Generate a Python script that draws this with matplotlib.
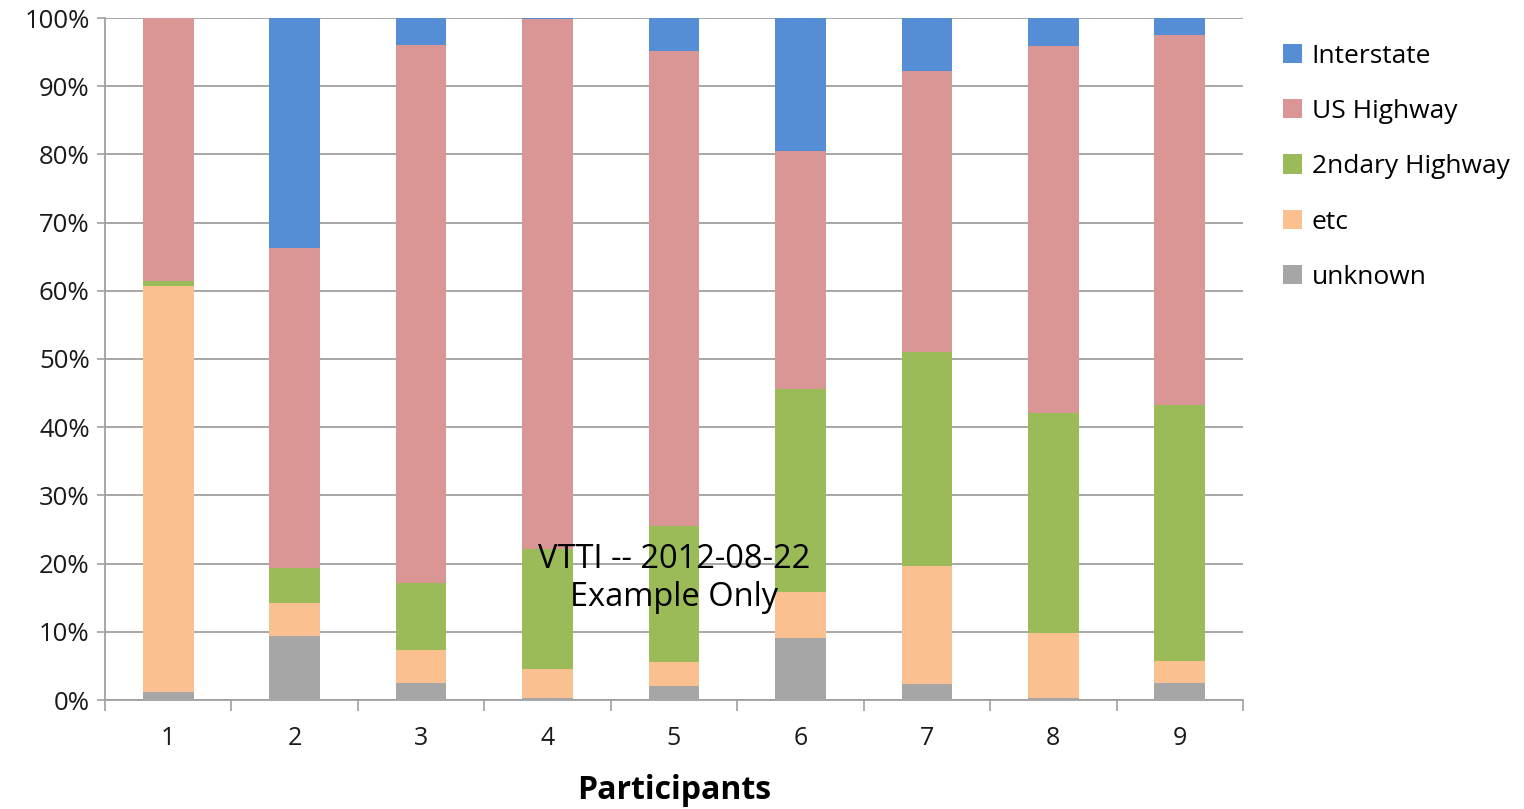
import matplotlib
matplotlib.use("Agg")
import matplotlib.pyplot as plt
import numpy as np
from matplotlib.patches import Patch

participants = ["1", "2", "3", "4", "5", "6", "7", "8", "9"]
unknown   = [1.2, 9.4, 2.5, 0.3, 2.1, 9.1, 2.3, 0.3, 2.5]
etc       = [59.5, 4.8, 4.8, 4.2, 3.5, 6.7, 17.3, 9.5, 3.2]
secondary = [0.7, 5.2, 9.9, 17.6, 19.9, 29.8, 31.4, 32.3, 37.6]
us_hwy    = [38.6, 46.9, 78.8, 77.7, 69.7, 34.9, 41.2, 53.8, 54.2]
interstate= [0.0, 33.7, 4.0, 0.2, 4.8, 19.5, 7.8, 4.1, 2.5]

series_names = ["unknown", "etc", "2ndary Highway", "US Highway", "Interstate"]
series_vals = [unknown, etc, secondary, us_hwy, interstate]
colors = {"Interstate": "#558ED5", "US Highway": "#D99694",
          "2ndary Highway": "#9BBB59", "etc": "#FAC090", "unknown": "#A6A6A6"}

font = "Open Sans"
plt.rcParams['font.family'] = [font, 'DejaVu Sans']

fig = plt.figure(figsize=(15.24, 8.09), dpi=100)
ax = fig.add_axes([105/1524, 1-700/809, (1243-105)/1524, (700-18)/809])

x = np.arange(len(participants))
bottom = np.zeros(len(participants))
for name, vals in zip(series_names, series_vals):
    v = np.array(vals, dtype=float)
    ax.bar(x, v, width=0.40, bottom=bottom, color=colors[name], zorder=3,
           linewidth=0)
    bottom += v

ax.set_xlim(-0.5, len(participants) - 0.5)
ax.set_ylim(0, 100)
ax.set_yticks(np.arange(0, 101, 10))
ax.set_yticklabels([f"{t}%" for t in range(0, 101, 10)])
ax.yaxis.grid(True, color="#A0A0A0", linewidth=1.3, zorder=0)
ax.set_axisbelow(True)

ax.set_xticks(x)
ax.set_xticklabels(participants)
ax.set_xticks(np.arange(-0.5, len(participants)), minor=True)
ax.tick_params(axis="x", which="major", length=0, pad=19, labelsize=18, labelcolor="#1a1a1a")
ax.tick_params(axis="x", which="minor", length=8, width=1.2, color="#A0A0A0", direction="out")
ax.tick_params(axis="y", which="major", length=6, width=1.2, color="#A0A0A0",
               direction="out", labelsize=18.5, pad=5, labelcolor="#1a1a1a")

for s in ["top", "right"]:
    ax.spines[s].set_visible(False)
for s in ["left", "bottom"]:
    ax.spines[s].set_color("#A0A0A0")
    ax.spines[s].set_linewidth(1.3)

ax.set_xlabel("Participants", fontsize=23, fontweight="bold", labelpad=16)

ax.text(4.0, 17.8, "VTTI -- 2012-08-22\nExample Only", ha="center", va="center",
        fontsize=23.5, color="black", zorder=5, linespacing=1.2)

handles = [Patch(facecolor=colors[n], edgecolor="none") for n in
           ["Interstate", "US Highway", "2ndary Highway", "etc", "unknown"]]
labels = ["Interstate", "US Highway", "2ndary Highway", "etc", "unknown"]
fig.legend(handles, labels, loc="upper left", bbox_to_anchor=(1272/1524, 1-33/809),
           frameon=False, fontsize=19, handlelength=0.75, handleheight=0.75,
           handletextpad=0.35, labelspacing=1.15, borderaxespad=0)

fig.savefig("out.png", dpi=100)
